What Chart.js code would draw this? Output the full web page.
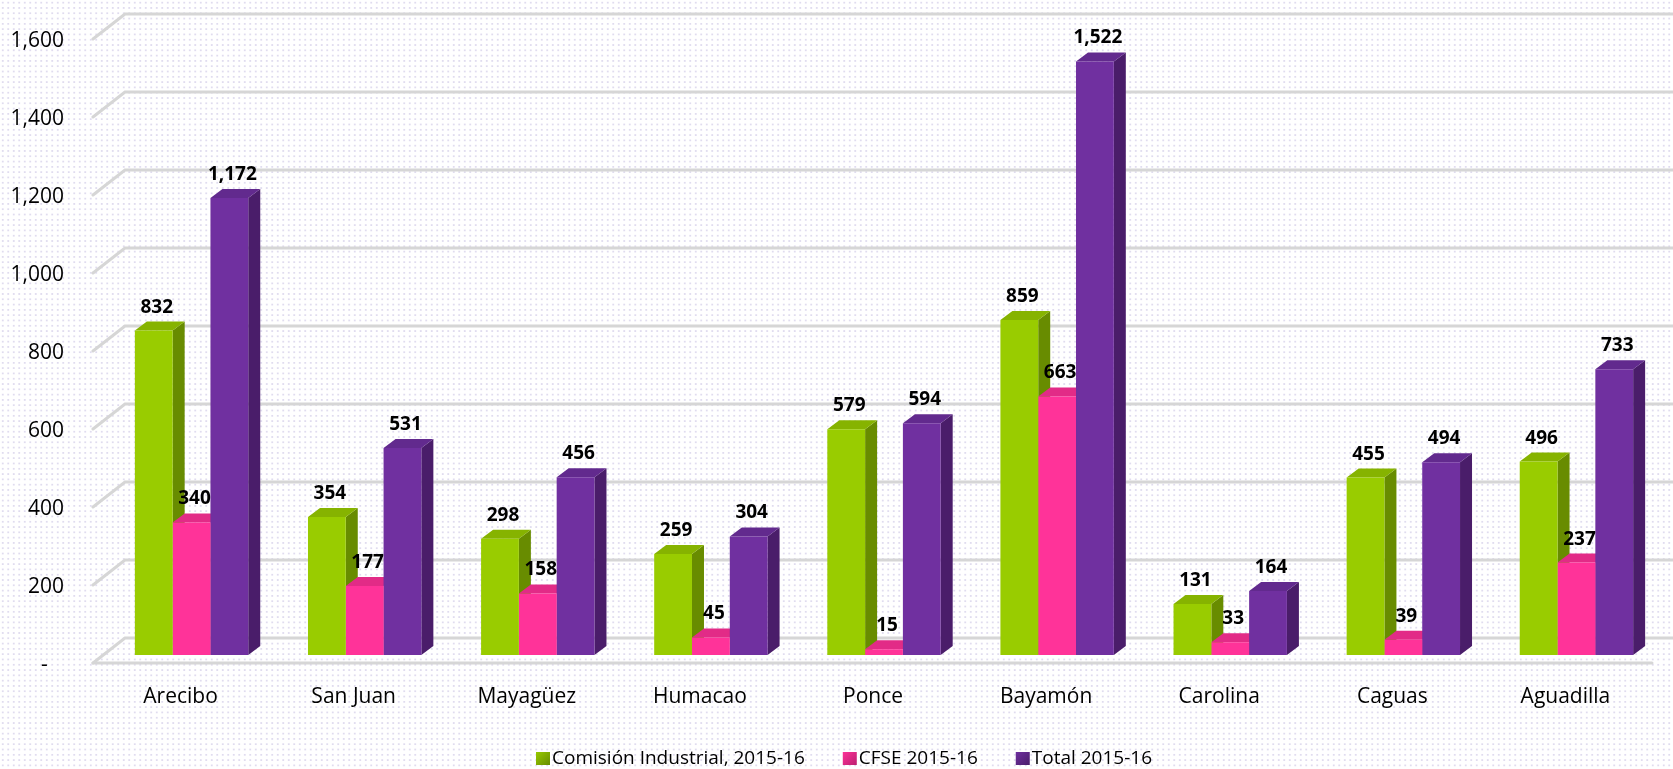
<!DOCTYPE html>
<html>
<head>
<meta charset="utf-8">
<script src="https://cdn.jsdelivr.net/npm/chart.js@4/dist/chart.umd.min.js"></script>
<style>
  html, body { margin:0; padding:0; background:#fff; }
  #wrap {
    width:1673px; height:769px; position:relative;
    background-color:#fff;
    background-image: radial-gradient(circle, #e0dcef 0.9px, transparent 1.1px);
    background-size: 5.5px 5.3px;
  }
</style>
</head>
<body>
<div id="wrap"><canvas id="c" width="1673" height="769"></canvas></div>
<script>
  /* data */
  const regions = ["Arecibo","San Juan","Mayagüez","Humacao","Ponce","Bayamón","Carolina","Caguas","Aguadilla"];
  const comision = [832, 354, 298, 259, 579, 859, 131, 455, 496];
  const cfse     = [340, 177, 158, 45, 15, 663, 33, 39, 237];
  const total    = [1172, 531, 456, 304, 594, 1522, 164, 494, 733];
  const yTickLabels = ["-   ","200","400","600","800","1,000","1,200","1,400","1,600"];
  const seriesNames = ["Comisión Industrial, 2015-16","CFSE 2015-16","Total 2015-16"];

  const FONT = '"Open Sans", "Noto Sans", sans-serif';
  // front / side / top shades per series
  const shades = [
    { front:"#99cc00", side:"#688c00", top:"#86b300" },
    { front:"#ff3399", side:"#bc1f70", top:"#e22b87" },
    { front:"#7030a0", side:"#4a1d6a", top:"#622a8e" },
  ];
  const DX = 12, DY = -9;       // bar depth
  const FDX = -10, FDY = 8;     // bar plane -> front plane
  const BDX = 22, BDY = -17;    // bar plane -> back wall

  const fmt = (v) => v.toLocaleString("en-US");

  const walls = {
    id: "walls",
    beforeDatasetsDraw(chart) {
      const ctx = chart.ctx, y = chart.scales.y, W = chart.width;
      const x0 = 93 - FDX;  // bar-plane x of the axis corner
      ctx.save();
      ctx.strokeStyle = "#d6d6d6";
      ctx.lineWidth = 3;
      ctx.lineCap = "round";
      y.ticks.forEach((t) => {
        const py = y.getPixelForValue(t.value);
        ctx.beginPath();
        ctx.moveTo(x0 + FDX, py + FDY);
        ctx.lineTo(x0 + BDX, py + BDY);
        ctx.lineTo(W, py + BDY);
        ctx.stroke();
      });
      // front edge of the floor
      const p0 = y.getPixelForValue(0);
      ctx.beginPath();
      ctx.moveTo(x0 + FDX, p0 + FDY);
      ctx.lineTo(1652, p0 + FDY);
      ctx.stroke();
      ctx.restore();

      // sides and tops of the bars, per category, left to right
      const metas = chart.data.datasets.map((d, i) => chart.getDatasetMeta(i));
      ctx.save();
      for (let k = 0; k < regions.length; k++) {
        metas.forEach((m, i) => {
          const el = m.data[k];
          const l = el.x - el.width / 2, r = el.x + el.width / 2, t = el.y, b = el.base;
          ctx.fillStyle = shades[i].side;
          ctx.beginPath();
          ctx.moveTo(r, b); ctx.lineTo(r + DX, b + DY); ctx.lineTo(r + DX, t + DY); ctx.lineTo(r, t);
          ctx.closePath(); ctx.fill();
          ctx.fillStyle = shades[i].top;
          ctx.beginPath();
          ctx.moveTo(l, t); ctx.lineTo(l + DX, t + DY); ctx.lineTo(r + DX, t + DY); ctx.lineTo(r, t);
          ctx.closePath(); ctx.fill();
        });
      }
      ctx.restore();
    },
    afterDatasetsDraw(chart) {
      const ctx = chart.ctx;
      ctx.save();
      ctx.fillStyle = "#000";
      ctx.font = "bold 19px " + FONT;
      ctx.textAlign = "center";
      ctx.textBaseline = "alphabetic";
      chart.data.datasets.forEach((ds, i) => {
        chart.getDatasetMeta(i).data.forEach((el, k) => {
          ctx.fillText(fmt(ds.data[k]), el.x + 3, el.y + DY - 9);
        });
      });
      ctx.restore();
    },
    afterDraw(chart) {
      // legend
      const ctx = chart.ctx;
      ctx.save();
      ctx.font = "19px " + FONT;
      ctx.textBaseline = "middle";
      let x = 536;
      const yc = 758;
      chart.data.datasets.forEach((ds, i) => {
        const g = ctx.createLinearGradient(x, yc - 7, x + 14, yc + 7);
        g.addColorStop(0, shades[i].front);
        g.addColorStop(1, shades[i].side);
        ctx.fillStyle = g;
        ctx.fillRect(x, yc - 6, 14, 13);
        ctx.fillStyle = "#000";
        ctx.fillText(ds.label, x + 16, yc + 1);
        x += 16 + ctx.measureText(ds.label).width + 38;
      });
      ctx.restore();
    },
  };

  new Chart(document.getElementById("c"), {
    type: "bar",
    data: {
      labels: regions,
      datasets: [
        { label: seriesNames[0], data: comision, backgroundColor: shades[0].front },
        { label: seriesNames[1], data: cfse, backgroundColor: shades[1].front },
        { label: seriesNames[2], data: total, backgroundColor: shades[2].front },
      ],
    },
    options: {
      responsive: false,
      animation: false,
      events: [],
      categoryPercentage: 0.655,
      barPercentage: 1,
      layout: { padding: { left: 0, right: 10, top: 31, bottom: 0 } },
      plugins: { legend: { display: false }, tooltip: { enabled: false } },
      scales: {
        x: {
          grid: { display: false, drawTicks: false },
          border: { display: false },
          ticks: { color: "#000", font: { family: FONT, size: 21 }, padding: 29, labelOffset: -11, maxRotation: 0 },
          afterFit: (s) => { s.height = 114; s.paddingLeft = 0; s.paddingRight = 0; },
        },
        y: {
          min: 0, max: 1600,
          grid: { display: false, drawTicks: false },
          border: { display: false },
          ticks: {
            stepSize: 200, color: "#000", padding: 41, labelOffset: 10,
            font: { family: FONT, size: 21 },
            callback: (v, i) => yTickLabels[i],
          },
          afterFit: (s) => { s.width = 105; s.paddingTop = 0; s.paddingBottom = 0; },
        },
      },
    },
    plugins: [walls],
  });
</script>
</body>
</html>
